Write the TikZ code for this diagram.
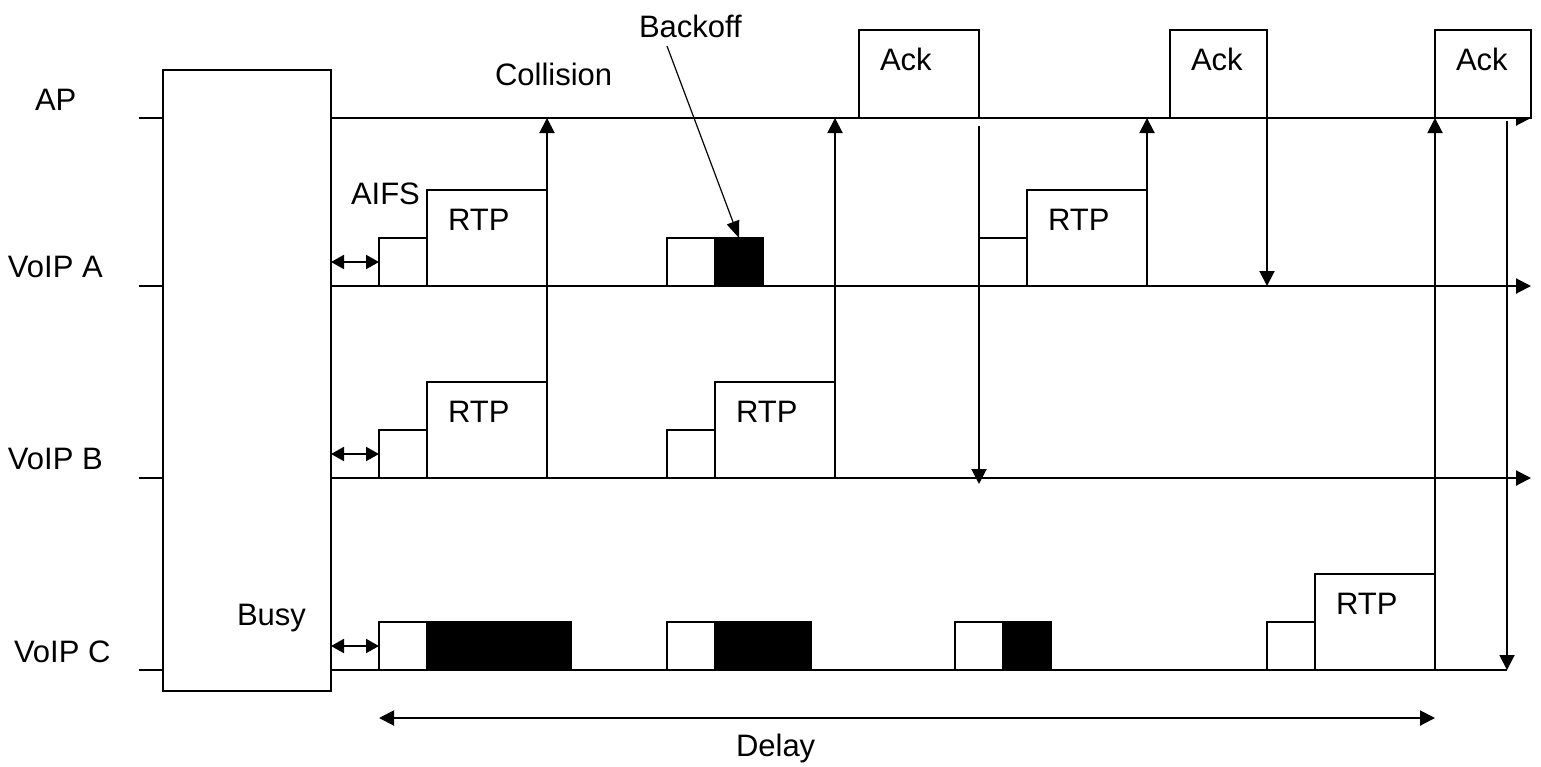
\documentclass[tikz,border=0pt]{standalone}
\usepackage{fontspec}
\setmainfont{Liberation Sans}
\usetikzlibrary{arrows.meta}
\tikzset{
  ln/.style={line width=2pt},
  tipend/.style={-{Triangle[length=15pt,width=15pt]}},
  tipboth/.style={{Triangle[length=13pt,width=14pt]}-{Triangle[length=13pt,width=14pt]}},
  tipboth2/.style={{Triangle[length=15pt,width=15pt]}-{Triangle[length=15pt,width=15pt]}},
  wbox/.style={draw, fill=white, line width=2pt, inner sep=0pt, outer sep=0pt, anchor=south west},
  bbox/.style={wbox, fill=black},
  lbl/.style={font=\fontsize{31}{37}\selectfont, inner sep=0pt, outer sep=0pt, anchor=base west},
}
\begin{document}
\begin{tikzpicture}[x=1pt,y=-1pt]
\useasboundingbox[fill=white] (0,0) rectangle (1541,766);

% timeline coordinates
\coordinate (apS) at (139,118);  \coordinate (apR) at (1531,118);
\coordinate (aS) at (139,286);   \coordinate (aR) at (1531,286);
\coordinate (bS) at (139,478);   \coordinate (bR) at (1531,478);
\coordinate (cS) at (139,670);   \coordinate (cR) at (1507,670);

% Busy box
\node[wbox, minimum width=168pt, minimum height=621pt] (busy) at (163,691) {};

% timelines
\draw[ln] (apS) -- (apS -| busy.west);
\draw[ln] (aS) -- (aS -| busy.west);
\draw[ln] (bS) -- (bS -| busy.west);
\draw[ln] (cS) -- (cS -| busy.west);
\draw[ln, tipend] (apS -| busy.east) -- (apR);
\draw[ln, tipend] (aS -| busy.east) -- (aR);
\draw[ln, tipend] (bS -| busy.east) -- (bR);
\draw[ln] (cS -| busy.east) -- (cR);

% VoIP A
\node[wbox, minimum width=48pt, minimum height=48pt] (aifsA1) at (379,286) {};
\node[wbox, minimum width=120pt, minimum height=96pt] (rtpA1) at (427,286) {};
\node[wbox, minimum width=48pt, minimum height=48pt] (aifsA2) at (667,286) {};
\node[bbox, minimum width=48pt, minimum height=48pt] (boA2) at (715,286) {};
\node[wbox, minimum width=48pt, minimum height=48pt] (aifsA3) at (979,286) {};
\node[wbox, minimum width=120pt, minimum height=96pt] (rtpA3) at (1027,286) {};

% VoIP B
\node[wbox, minimum width=48pt, minimum height=48pt] (aifsB1) at (379,478) {};
\node[wbox, minimum width=120pt, minimum height=96pt] (rtpB1) at (427,478) {};
\node[wbox, minimum width=48pt, minimum height=48pt] (aifsB2) at (667,478) {};
\node[wbox, minimum width=120pt, minimum height=96pt] (rtpB2) at (715,478) {};

% VoIP C
\node[wbox, minimum width=48pt, minimum height=48pt] (aifsC1) at (379,670) {};
\node[bbox, minimum width=144pt, minimum height=48pt] (boC1) at (427,670) {};
\node[wbox, minimum width=48pt, minimum height=48pt] (aifsC2) at (667,670) {};
\node[bbox, minimum width=96pt, minimum height=48pt] (boC2) at (715,670) {};
\node[wbox, minimum width=48pt, minimum height=48pt] (aifsC3) at (955,670) {};
\node[bbox, minimum width=48pt, minimum height=48pt] (boC3) at (1003,670) {};
\node[wbox, minimum width=48pt, minimum height=48pt] (aifsC4) at (1267,670) {};
\node[wbox, minimum width=120pt, minimum height=96pt] (rtpC4) at (1315,670) {};

% AP acks
\node[wbox, minimum width=120pt, minimum height=88pt] (ack1) at (859,118) {};
\node[wbox, minimum width=97pt, minimum height=88pt] (ack2) at (1170,118) {};
\node[wbox, minimum width=96pt, minimum height=88pt] (ack3) at (1435,118) {};

% transmissions to AP
\draw[ln, tipend] (rtpB1.south east) -- (rtpB1.south east |- apR);
\draw[ln, tipend] (rtpB2.south east) -- (rtpB2.south east |- apR);
\draw[ln, tipend] (rtpA3.south east) -- (rtpA3.south east |- apR);
\draw[ln, tipend] (rtpC4.south east) -- (rtpC4.south east |- apR);

% acks from AP
\coordinate (ack1dn) at ([yshift=-8pt]ack1.south east);
\coordinate (ack1end) at ([yshift=-6pt]ack1.south east |- bR);
\draw[ln, tipend] (ack1dn) -- (ack1end);
\draw[ln, tipend] (ack2.south east) -- (ack2.south east |- aR);
\coordinate (ack3dn) at (1507,121);
\draw[ln, tipend] (ack3dn) -- (cR);

% AIFS intervals
\draw[ln, tipboth] (aifsA1.west -| busy.east) -- (aifsA1.west);
\draw[ln, tipboth] (aifsB1.west -| busy.east) -- (aifsB1.west);
\draw[ln, tipboth] (aifsC1.west -| busy.east) -- (aifsC1.west);

% delay
\coordinate (dL) at ([yshift=-48pt]aifsC1.south west);
\coordinate (dR) at ([yshift=-48pt]rtpC4.south east);
\draw[ln, tipboth2] (dL) -- (dR);

% labels
\node[lbl] (lAP) at (35,110) {AP};
\node[lbl] (lA) at (8,277) {VoIP A};
\node[lbl] (lB) at (8,469) {VoIP B};
\node[lbl] (lC) at (14,662) {VoIP C};
\node[lbl] (lBusy) at (237,625) {Busy};
\node[lbl] (lAIFS) at (351,204) {AIFS};
\node[lbl] (lCol) at (495,85) {Collision};
\node[lbl] (lBack) at (639,37) {Backoff};
\node[lbl] (lDelay) at (736,756) {Delay};
\foreach \b in {rtpA1,rtpA3,rtpB1,rtpB2,rtpC4}{
  \node[lbl] at ([xshift=21pt,yshift=-40pt]\b.north west) {RTP};
}
\foreach \b in {ack1,ack2,ack3}{
  \node[lbl] at ([xshift=21pt,yshift=-40pt]\b.north west) {Ack};
}

% backoff pointer
\coordinate (boStart) at (667,46);
\draw[line width=1.2pt, -{Triangle[length=17pt,width=13pt]}] (boStart) -- (boA2.north);
\end{tikzpicture}
\end{document}
